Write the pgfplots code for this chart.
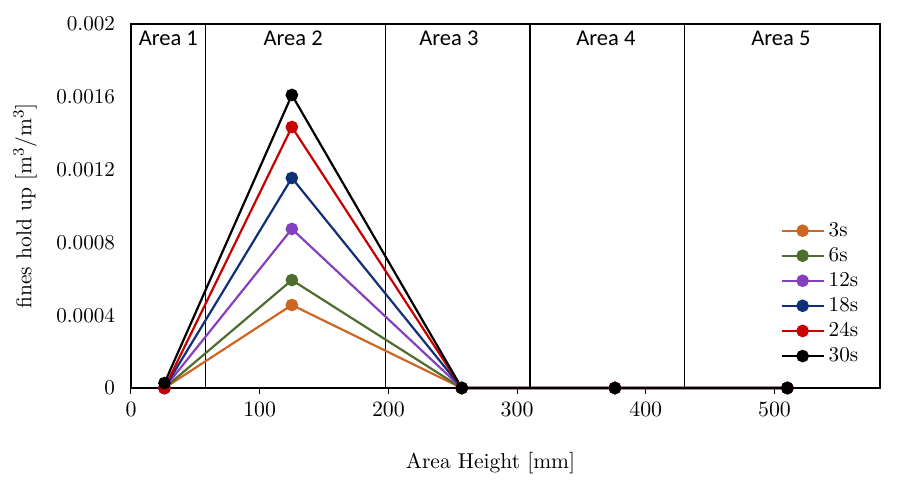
\documentclass[border=0pt]{standalone}
\usepackage{pgfplots}
\pgfplotsset{compat=1.18}
\usepackage{fontspec}
\newfontfamily\areafont{Carlito}
\definecolor{c3}{RGB}{204,102,34}
\definecolor{c6}{RGB}{78,110,46}
\definecolor{c12}{RGB}{132,64,190}
\definecolor{c18}{RGB}{16,48,120}
\definecolor{c24}{RGB}{200,0,0}
\definecolor{c30}{RGB}{0,0,0}
\begin{document}
\begin{tikzpicture}
\begin{axis}[
  name=ax,
  scale only axis,
  width=374.5bp, height=182bp,
  xmin=0, xmax=582, ymin=0, ymax=0.002,
  xtick={0,100,200,300,400,500},
  ytick={0,0.0004,0.0008,0.0012,0.0016,0.002},
  yticklabels={0,0.0004,0.0008,0.0012,0.0016,0.002},
  scaled y ticks=false,
  axis line style={line width=0.6pt},
  xtick pos=bottom, ytick pos=left,
  tick align=outside,
  major tick length=3bp,
  ytick style={draw=none},
  xtick style={black, line width=0.5pt},
  tick label style={font=\fontsize{10.6}{12}\selectfont},
  yticklabel style={xshift=-1.5bp},
  xticklabel style={yshift=-0.5bp},
  xlabel={Area Height [mm]},
  ylabel={fines hold up [m$^3$/m$^3$]},
  xlabel style={font=\fontsize{10.8}{13}\selectfont, at={(axis description cs:0.48,0)}, anchor=center, yshift=-37.5bp},
  ylabel style={font=\fontsize{10.8}{13}\selectfont, at={(axis description cs:-0.1415,0.5)}, anchor=center},
  clip=false,
  legend style={draw=none, fill=none, at={(axis description cs:0.864,0.473)}, anchor=north west,
    font=\fontsize{10.6}{12.6}\selectfont, row sep=0pt, inner sep=1pt},
  legend cell align=left,
  legend image code/.code={\draw[mark repeat=2,mark phase=2] plot coordinates {(0bp,0bp) (10.5bp,0bp) (21bp,0bp)};},
  every axis plot/.append style={line width=1.1pt, mark=*, mark size=2.6bp},
]
% area separators
\draw[black, line width=0.6pt] (axis cs:58,0) -- (axis cs:58,0.002);
\draw[black, line width=0.6pt] (axis cs:198,0) -- (axis cs:198,0.002);
\draw[black, line width=0.6pt] (axis cs:310,0) -- (axis cs:310,0.002);
\draw[black, line width=0.6pt] (axis cs:430,0) -- (axis cs:430,0.002);
\node[font=\areafont\fontsize{11.3}{13}\selectfont] at (axis cs:29,0.00192) {Area 1};
\node[font=\areafont\fontsize{11.3}{13}\selectfont] at (axis cs:126,0.00192) {Area 2};
\node[font=\areafont\fontsize{11.3}{13}\selectfont] at (axis cs:247,0.00192) {Area 3};
\node[font=\areafont\fontsize{11.3}{13}\selectfont] at (axis cs:369,0.00192) {Area 4};
\node[font=\areafont\fontsize{11.3}{13}\selectfont] at (axis cs:505,0.00192) {Area 5};
\addplot[color=c3, mark options={fill=c3}] coordinates {(26,0) (125,0.000456) (257,0) (376,0) (510,0)};
\addlegendentry{3s}
\addplot[color=c6, mark options={fill=c6}] coordinates {(26,0) (125,0.000593) (257,0) (376,0) (510,0)};
\addlegendentry{6s}
\addplot[color=c12, mark options={fill=c12}] coordinates {(26,0) (125,0.000874) (257,0) (376,0) (510,0)};
\addlegendentry{12s}
\addplot[color=c18, mark options={fill=c18}] coordinates {(26,0) (125,0.001154) (257,0) (376,0) (510,0)};
\addlegendentry{18s}
\addplot[color=c24, mark options={fill=c24}] coordinates {(26,0) (125,0.001434) (257,0) (376,0) (510,0)};
\addlegendentry{24s}
\addplot[color=c30, mark options={fill=c30}] coordinates {(26,0.000027) (125,0.00161) (257,0) (376,0) (510,0)};
\addlegendentry{30s}
\end{axis}
\path ([xshift=-65.5bp,yshift=-47.5bp]ax.south west) rectangle ([xshift=12bp,yshift=12bp]ax.north east);
\end{tikzpicture}
\end{document}
